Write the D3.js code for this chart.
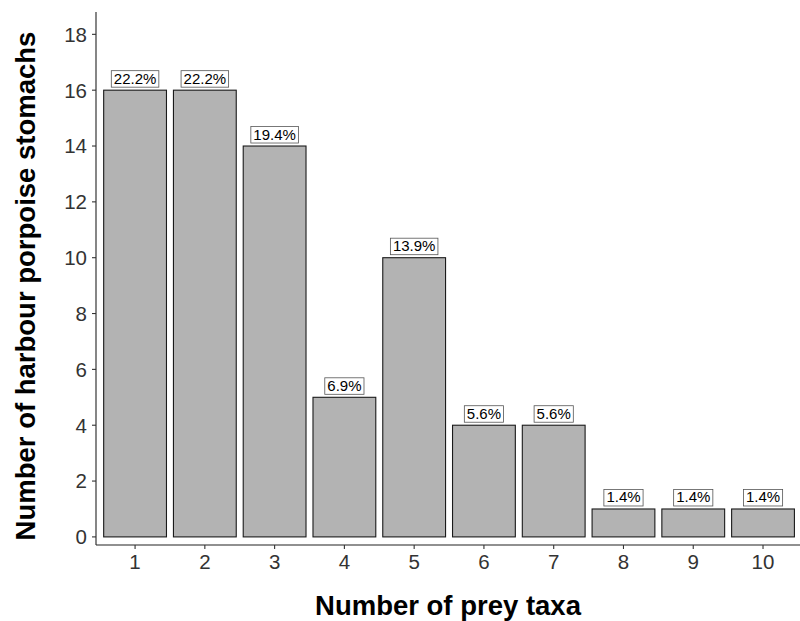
<!DOCTYPE html>
<html><head><meta charset="utf-8">
<script src="https://cdn.jsdelivr.net/npm/d3@7"></script>
<style>body{margin:0;background:#fff;} svg{display:block;font-family:"Liberation Sans",Arial,sans-serif;}</style>
</head><body>
<script>
const categories = [1,2,3,4,5,6,7,8,9,10];
const counts = [16,16,14,5,10,4,4,1,1,1];
const percentLabels = ["22.2%","22.2%","19.4%","6.9%","13.9%","5.6%","5.6%","1.4%","1.4%","1.4%"];
const yTicks = [0,2,4,6,8,10,12,14,16,18];

const W = 800, H = 621;
const svg = d3.select("body").append("svg").attr("width", W).attr("height", H);

const x = d3.scaleLinear().domain([0.44, 10.53]).range([96, 800]);
const y = d3.scaleLinear().domain([-0.29, 18.8]).range([545, 12]);
const barW = 0.9 * (x(2) - x(1));

const g = svg.append("g");
g.selectAll("rect.bar").data(counts).enter().append("rect")
  .attr("class","bar")
  .attr("x", (d,i) => x(categories[i]) - barW/2)
  .attr("y", d => y(d))
  .attr("width", barW)
  .attr("height", d => y(0) - y(d))
  .attr("fill", "#b3b3b3")
  .attr("stroke", "#1a1a1a")
  .attr("stroke-width", 1.1);

// labels
const lab = g.selectAll("g.lab").data(counts).enter().append("g").attr("class","lab")
  .attr("transform", (d,i) => `translate(${x(categories[i])},${y(d) - 3})`);
lab.append("text")
  .attr("text-anchor","middle")
  .attr("y", -3.5)
  .attr("font-size", 15)
  .attr("fill", "#000")
  .text((d,i) => percentLabels[i]);
lab.each(function(){
  const t = d3.select(this).select("text");
  const bb = t.node().getBBox();
  d3.select(this).insert("rect","text")
    .attr("x", bb.x - 2.5).attr("y", -16.5).attr("width", bb.width + 5).attr("height", 16.5)
    .attr("fill","#fff").attr("stroke","#555").attr("stroke-width",0.8);
});

// axes
const axisCol = "#222";
svg.append("line").attr("x1",96).attr("x2",96).attr("y1",12).attr("y2",545).attr("stroke",axisCol).attr("stroke-width",1.1);
svg.append("line").attr("x1",96).attr("x2",800).attr("y1",545).attr("y2",545).attr("stroke",axisCol).attr("stroke-width",1.1);

const yt = svg.append("g").selectAll("g").data(yTicks).enter().append("g");
yt.append("line").attr("x1",92).attr("x2",96).attr("y1",d=>y(d)).attr("y2",d=>y(d)).attr("stroke","#333").attr("stroke-width",1.1);
yt.append("text").attr("x",87).attr("y",d=>y(d)).attr("dy","0.36em").attr("text-anchor","end")
  .attr("font-size",20.5).attr("fill","#333").text(d=>d);

const xt = svg.append("g").selectAll("g").data(categories).enter().append("g");
xt.append("line").attr("x1",d=>x(d)).attr("x2",d=>x(d)).attr("y1",545).attr("y2",549).attr("stroke","#333").attr("stroke-width",1.1);
xt.append("text").attr("x",d=>x(d)).attr("y",569).attr("text-anchor","middle")
  .attr("font-size",20.5).attr("fill","#333").text(d=>d);

svg.append("text").attr("x",448).attr("y",615).attr("text-anchor","middle")
  .attr("font-size",27.5).attr("font-weight","bold").attr("fill","#000").text("Number of prey taxa");
svg.append("text").attr("transform","translate(35,286) rotate(-90)").attr("text-anchor","middle")
  .attr("font-size",27.5).attr("font-weight","bold").attr("fill","#000").text("Number of harbour porpoise stomachs");
</script>
</body></html>
